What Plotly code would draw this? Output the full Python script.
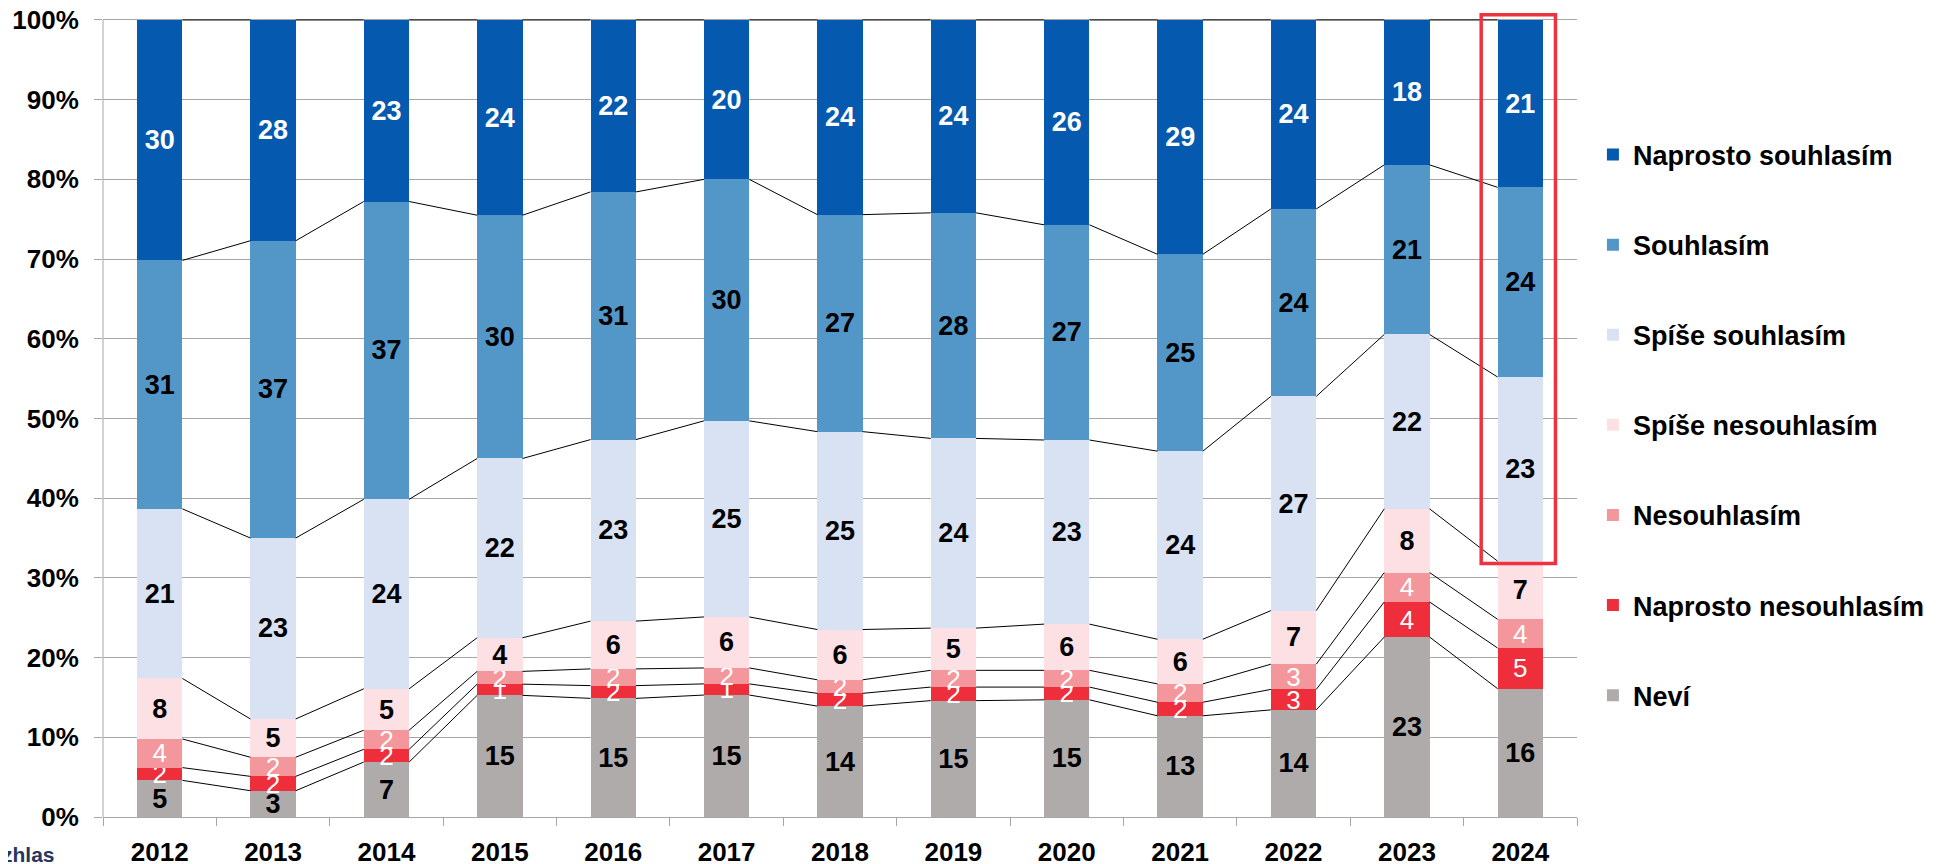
import plotly.graph_objects as go

# ---------------- data ----------------
years = ["2012", "2013", "2014", "2015", "2016", "2017", "2018",
         "2019", "2020", "2021", "2022", "2023", "2024"]

nevi           = [4.6, 3.3, 6.9, 15.2, 14.9, 15.3, 13.9, 14.6, 14.7, 12.7, 13.6, 22.6, 16.1]
naprosto_nes   = [1.6, 1.8, 1.6, 1.4, 1.6, 1.4, 1.6, 1.7, 1.6, 1.7, 2.6, 4.4, 5.1]
nesouhlasim    = [3.6, 2.4, 2.4, 1.6, 2.1, 2.0, 1.7, 2.1, 2.1, 2.3, 3.2, 3.7, 3.6]
spise_nes      = [7.6, 4.8, 5.2, 4.2, 6.0, 6.4, 6.3, 5.3, 5.8, 5.6, 6.8, 8.0, 7.3]
spise_souhl    = [21.3, 22.7, 23.8, 22.4, 22.8, 24.6, 24.8, 23.8, 23.1, 23.6, 27.2, 21.9, 23.1]
souhlasim      = [31.2, 37.3, 37.4, 30.4, 31.1, 30.3, 27.2, 28.3, 27.0, 24.7, 23.8, 21.3, 23.8]
naprosto_souhl = [30.2, 27.7, 22.8, 24.4, 21.6, 20.0, 24.4, 24.2, 25.7, 29.4, 24.0, 18.2, 21.0]

series_names = ["Neví", "Naprosto nesouhlasím", "Nesouhlasím", "Spíše nesouhlasím",
                "Spíše souhlasím", "Souhlasím", "Naprosto souhlasím"]
series_values = [nevi, naprosto_nes, nesouhlasim, spise_nes, spise_souhl, souhlasim, naprosto_souhl]
y_ticks = [0, 10, 20, 30, 40, 50, 60, 70, 80, 90, 100]

# ---------------- style ----------------
colors = ["#AFABAB", "#EE2E3B", "#F4979C", "#FDE0E4", "#D9E2F3", "#5396C8", "#0559AE"]
text_colors = ["black", "white", "white", "black", "black", "black", "white"]
text_weights = ["bold", "normal", "normal", "bold", "bold", "bold", "bold"]
text_sizes = [27, 26, 26, 27, 27, 27, 27]
FONT = "Liberation Sans, Arial, sans-serif"
GRID = "#A6A6A6"
BAR_W = 0.4

n = len(years)
xs = list(range(n))
totals = [sum(s[i] for s in series_values) for i in range(n)]
pct = [[s[i] / totals[i] * 100 for i in range(n)] for s in series_values]

fig = go.Figure()

nser = len(series_names)
for k, name in enumerate(series_names):
    fig.add_trace(go.Bar(
        x=xs, y=pct[k], name=name, legendgroup=name,
        legendrank=100 + (nser - k),
        width=BAR_W,
        marker=dict(color=colors[k], line=dict(width=0)),
        text=[f"{v:.0f}" for v in series_values[k]],
        textposition="inside", insidetextanchor="middle",
        constraintext="none", textangle=0,
        insidetextfont=dict(family=FONT, size=text_sizes[k],
                            color=text_colors[k], weight=text_weights[k]),
        hoverinfo="skip",
    ))

# series lines connecting segment tops between neighbouring bars
cum = [[0.0] * n for _ in series_names]
for i in range(n):
    acc = 0.0
    for k in range(nser):
        acc += pct[k][i]
        cum[k][i] = acc

for k in range(nser):
    lx, ly = [], []
    for i in range(n - 1):
        lx += [i + BAR_W / 2, i + 1 - BAR_W / 2, None]
        ly += [cum[k][i], cum[k][i + 1], None]
    fig.add_trace(go.Scatter(x=lx, y=ly, mode="lines",
                             line=dict(color="black", width=1),
                             showlegend=False, hoverinfo="skip"))

# highlight box around the last year's upper segments
last = n - 1
fig.add_shape(type="rect", xref="x", yref="y",
              x0=last - 0.345, x1=last + 0.31,
              y0=cum[3][last] - 0.3, y1=100.65,
              line=dict(color="#EE3340", width=3.5), fillcolor="rgba(0,0,0,0)")

# y axis line (from 0 to 100 %)
fig.add_shape(type="line", xref="paper", yref="y", x0=0, x1=0, y0=0, y1=100,
              line=dict(color=GRID, width=1))

fig.add_annotation(text="zhlas", xref="paper", yref="paper",
                   x=-0.0699, y=-0.046, xanchor="left", yanchor="middle",
                   showarrow=False,
                   font=dict(family=FONT, size=21, color="#27355F", weight="bold"))

# the page body adds an 8px margin, so the figure is sized to fit inside it
fig.update_layout(
    barmode="stack",
    width=1930, height=856,
    margin=dict(l=95, r=361, t=0, b=47, autoexpand=False),
    plot_bgcolor="white", paper_bgcolor="white",
    font=dict(family=FONT, color="black"),
    showlegend=True,
    legend=dict(
        x=1.0108, y=0.8486, xanchor="left", yanchor="top",
        traceorder="grouped", tracegroupgap=52,
        font=dict(family=FONT, size=27, color="black", weight="bold"),
        bgcolor="rgba(0,0,0,0)",
    ),
    xaxis=dict(
        range=[-0.5, n - 0.5], automargin=False,
        tickmode="array", tickvals=xs, ticktext=years,
        ticks="", showgrid=False, zeroline=False,
        showline=True, linecolor=GRID, linewidth=1,
        tickfont=dict(family=FONT, size=26, color="black", weight="bold"),
        ticklabelstandoff=12, ticklabeloverflow="allow",
        minor=dict(tickmode="array", tickvals=[i - 0.5 for i in range(n + 1)],
                   ticks="outside", ticklen=8, tickcolor=GRID, tickwidth=1,
                   showgrid=False),
    ),
    yaxis=dict(
        range=[0, 101.5], automargin=False,
        tickmode="array", tickvals=y_ticks, ticktext=[f"{t}%" for t in y_ticks],
        ticks="outside", ticklen=8, tickcolor=GRID, tickwidth=1,
        showgrid=True, gridcolor=GRID, gridwidth=1,
        zeroline=False, showline=False,
        tickfont=dict(family=FONT, size=26, color="black", weight="bold"),
        ticklabelstandoff=10, ticklabeloverflow="allow",
    ),
)

fig.write_html("out.html")
